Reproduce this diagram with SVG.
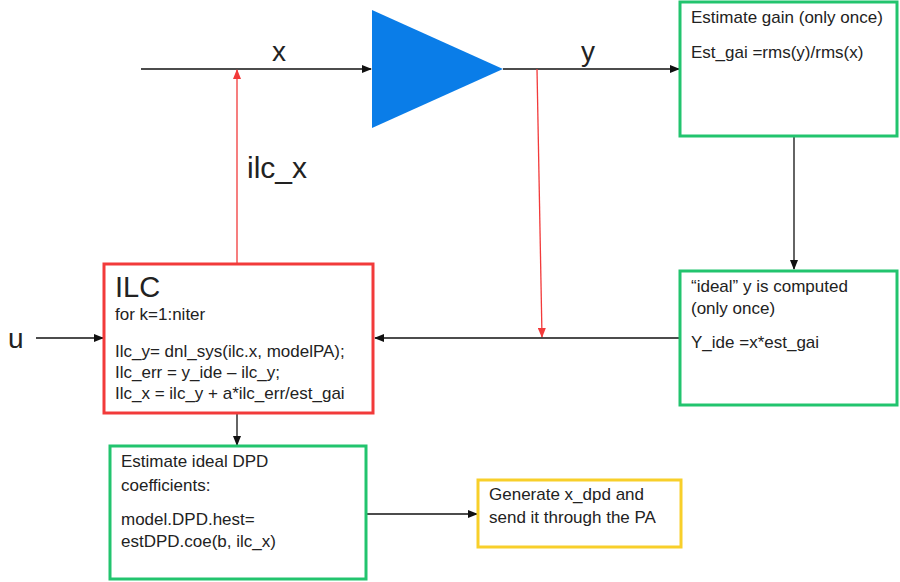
<svg xmlns="http://www.w3.org/2000/svg" width="900" height="582" viewBox="0 0 900 582">
<style>
text{font-family:"Liberation Sans","DejaVu Sans",sans-serif;fill:#222;}
.t{font-size:17px;}
.big{font-size:28px;}
.box{fill:#fff;stroke-width:3;}
.g{stroke:#22c46e;}
.r{stroke:#f23a3a;}
.yl{stroke:#f8cf2a;}
.c{stroke:#111;stroke-width:1.3;fill:none;}
.cr{stroke:#f23a3a;stroke-width:1.3;fill:none;}
</style>
<defs>
<marker id="ab" markerWidth="10" markerHeight="8" refX="9" refY="4" orient="auto" markerUnits="userSpaceOnUse"><path d="M0,0 L10,4 L0,8 z" fill="#111"/></marker>
<marker id="ar" markerWidth="10" markerHeight="8" refX="9" refY="4" orient="auto" markerUnits="userSpaceOnUse"><path d="M0,0 L10,4 L0,8 z" fill="#f23a3a"/></marker>
</defs>
<rect width="900" height="582" fill="#fff"/>
<g id="connectors">
<line class="c" x1="141" y1="69" x2="371" y2="69" marker-end="url(#ab)"/>
<line class="c" x1="503" y1="69" x2="679" y2="69" marker-end="url(#ab)"/>
<line class="cr" x1="237" y1="263" x2="237" y2="70" marker-end="url(#ar)"/>
<line class="cr" x1="537" y1="69" x2="542" y2="337" marker-end="url(#ar)"/>
<line class="c" x1="794" y1="136" x2="794" y2="269" marker-end="url(#ab)"/>
<line class="c" x1="680" y1="338" x2="375" y2="338" marker-end="url(#ab)"/>
<line class="c" x1="36" y1="338" x2="103" y2="338" marker-end="url(#ab)"/>
<line class="c" x1="237" y1="414" x2="237" y2="445" marker-end="url(#ab)"/>
<line class="c" x1="367" y1="514" x2="477" y2="514" marker-end="url(#ab)"/>
</g>
<g id="labels">
<text class="big" x="272" y="61">x</text>
<text class="big" x="581" y="61">y</text>
<text x="247" y="178" style="font-size:30px">ilc_x</text>
<text class="big" x="8" y="348">u</text>
</g>
<g id="pa">
<polygon points="372,10 372,128 503,69" fill="#0a7de8"/>
</g>
<g id="est-gain">
<rect class="box g" x="680" y="2" width="217" height="134"/>
<text class="t" x="691" y="23">Estimate gain (only once)</text>
<text class="t" x="691" y="58">Est_gai =rms(y)/rms(x)</text>
</g>
<g id="ideal-y">
<rect class="box g" x="680" y="271" width="217" height="134"/>
<text class="t" x="691" y="292">“ideal” y is computed</text>
<text class="t" x="691" y="314">(only once)</text>
<text class="t" x="691" y="348">Y_ide =x*est_gai</text>
</g>
<g id="ilc">
<rect class="box r" x="104" y="264" width="269" height="149"/>
<text x="115" y="297" style="font-size:29px">ILC</text>
<text class="t" x="115" y="320">for k=1:niter</text>
<text class="t" x="115" y="357">Ilc_y= dnl_sys(ilc.x, modelPA);</text>
<text class="t" x="115" y="378">Ilc_err = y_ide – ilc_y;</text>
<text class="t" x="115" y="399">Ilc_x = ilc_y + a*ilc_err/est_gai</text>
</g>
<g id="dpd">
<rect class="box g" x="110" y="446" width="256" height="133"/>
<text class="t" x="121" y="467">Estimate ideal DPD</text>
<text class="t" x="121" y="491">coefficients:</text>
<text class="t" x="121" y="525">model.DPD.hest=</text>
<text class="t" x="121" y="547">estDPD.coe(b, ilc_x)</text>
</g>
<g id="generate">
<rect class="box yl" x="478" y="480" width="203" height="67"/>
<text class="t" x="489" y="500">Generate x_dpd and</text>
<text class="t" x="489" y="523">send it through the PA</text>
</g>
</svg>
